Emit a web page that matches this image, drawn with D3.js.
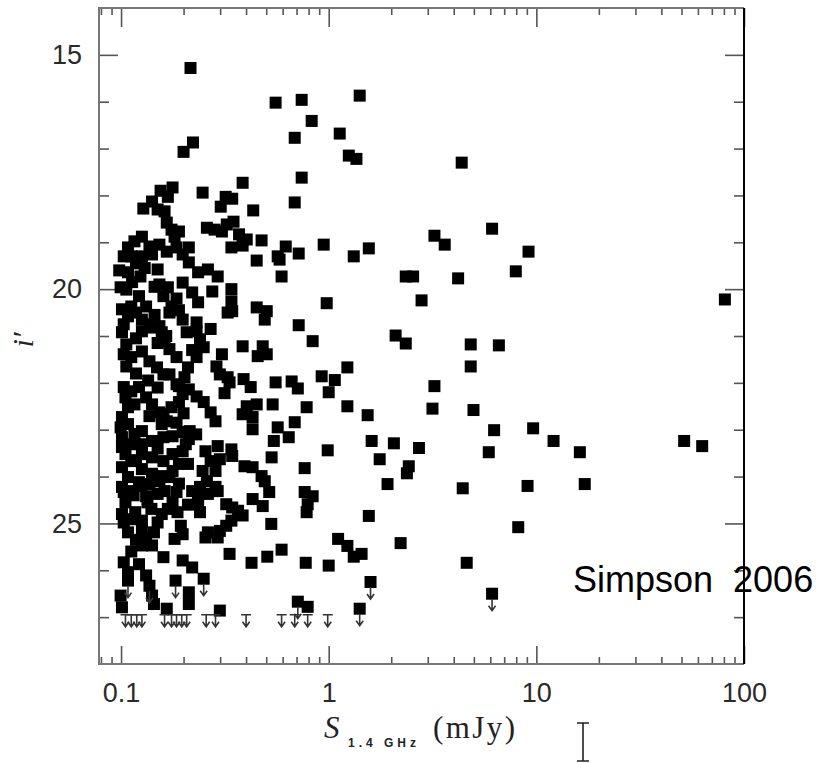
<!DOCTYPE html>
<html>
<head>
<meta charset="utf-8">
<script src="https://cdn.jsdelivr.net/npm/d3@7"></script>
<style>
  body { margin: 0; background: #fff; }
</style>
</head>
<body>
<div id="chart"></div>
<script>

// Detected sources: [S_1.4GHz (mJy), i' (mag)]
var squares = [
    [0.216,15.28],[0.222,16.87],[0.200,17.07],[0.555,16.02],[0.741,15.96],[1.41,15.87],[0.828,16.41],[0.686,16.77],
    [1.13,16.68],[1.25,17.15],[1.36,17.22],[4.37,17.30],[0.741,17.62],[0.686,18.15],[0.385,17.73],[0.247,17.94],
    [0.177,17.83],[0.155,17.90],[0.168,18.03],[0.319,18.03],[0.343,18.07],[0.302,18.24],[0.433,18.32],[0.141,18.13],
    [0.128,18.28],[0.150,18.30],[0.162,18.34],[0.166,18.58],[0.175,18.73],[0.190,18.77],[0.181,18.88],[0.259,18.69],
    [0.282,18.73],[0.306,18.77],[0.323,18.62],[0.348,18.56],[0.370,18.83],[0.403,18.94],[0.385,19.07],[0.340,19.11],
    [0.475,18.96],[3.23,18.86],[3.62,19.05],[6.12,18.71],[9.17,19.20],[0.946,19.05],[0.621,19.09],[0.717,19.24],
    [1.56,19.13],[1.32,19.30],[0.568,19.30],
    [0.116,18.98],[0.108,19.11],[0.103,19.30],[0.112,19.30],[0.126,18.88],[0.137,19.09],[0.126,19.30],[0.141,19.26],
    [0.153,19.05],[0.166,19.20],[0.185,19.11],[0.198,19.26],[0.212,19.11],[0.212,19.43],[0.235,19.64],[0.262,19.58],
    [0.292,19.73],[0.150,19.58],[0.153,19.90],[0.168,19.96],[0.198,19.86],[0.220,20.07],[0.235,20.28],[0.275,20.05],
    [0.340,20.00],[0.340,20.26],[0.343,20.47],[0.326,20.50],[0.450,20.39],[0.503,20.47],[0.492,20.65],[0.450,19.39],
    [0.580,19.37],[0.593,19.73],[0.978,20.30],[0.717,20.77],[0.175,20.37],[0.171,20.50],[0.198,20.65],[0.231,20.71],
    [0.108,19.64],[0.124,19.73],[0.106,20.01],[0.122,20.15],[0.112,20.37],[0.132,20.37],[0.108,20.58],[0.126,20.65],
    [0.153,20.79],[0.137,20.75],[0.103,20.75],[0.0995,19.96],[0.101,20.43],[0.098,19.60],[0.113,19.85],[0.118,20.50],
    [0.118,19.45],[0.130,19.55],[0.145,19.95],[0.160,20.15],[0.185,20.20],[0.190,20.45],[0.145,20.55],[0.270,20.85],
    [0.385,21.22],[0.481,21.22],[0.455,21.43],[0.503,21.39],[0.837,21.11],[0.306,21.39],[0.389,21.92],[0.421,22.09],
    [0.555,21.99],[0.663,21.97],[0.710,22.12],[0.925,21.86],[1.07,21.94],[1.00,22.20],[1.23,21.67],[0.315,22.22],
    [0.403,22.50],[0.450,22.46],[0.385,22.67],[0.430,22.73],[0.430,22.99],[0.537,22.46],[0.783,22.52],[0.686,22.84],
    [0.568,22.95],[0.642,23.16],[0.544,23.24],[0.989,23.44],[0.531,23.59],[0.766,23.82],[1.23,22.50],[0.285,22.82],
    [0.270,22.63],[0.250,22.41],[0.231,22.29],[0.212,22.14],[0.190,22.07],[0.198,22.24],[0.340,23.42],[0.343,23.56],
    [0.292,23.35],[0.299,23.63],[0.270,23.67],[0.255,23.46],[0.247,23.88],[0.285,23.88],[0.393,23.78],[0.430,23.80],
    [0.475,23.99],[0.492,24.10],[0.299,21.82],[0.326,21.88],[0.333,21.99],[0.288,21.65],[0.202,21.88],[0.210,21.67],
    [0.231,21.45],[0.250,21.24],[0.240,21.07],[0.231,20.90],[0.207,20.92],[0.185,21.45],[0.171,21.28],[0.162,21.11],
    [0.157,20.92],[0.141,20.82],[0.126,20.90],[0.101,20.92],[0.106,21.18],[0.103,21.39],[0.112,21.45],[0.126,21.33],
    [0.137,21.54],[0.149,21.67],[0.160,21.82],[0.171,21.82],[0.185,22.03],[0.106,21.65],[0.118,21.80],
    [0.165,21.00],[0.150,21.15],[0.118,21.05],[0.135,21.95],[0.150,22.10],[0.220,21.30],
    [0.103,22.09],[0.105,22.31],[0.112,22.18],[0.122,22.09],[0.108,22.52],[0.116,22.46],[0.132,22.31],[0.141,22.46],
    [0.137,22.71],[0.153,22.63],[0.166,22.82],[0.160,22.67],[0.175,22.52],[0.190,22.41],[0.157,22.88],[0.101,22.73],
    [0.0995,22.95],[0.101,23.16],[0.101,23.37],[0.108,22.88],[0.116,23.09],[0.126,23.03],[0.112,23.31],[0.126,23.31],
    [0.141,23.24],[0.160,23.16],[0.177,23.14],[0.198,23.05],[0.214,23.03],[0.212,23.20],[0.205,23.31],[0.105,23.52],
    [0.112,23.67],[0.126,23.52],[0.141,23.59],[0.160,23.67],[0.177,23.52],[0.198,23.46],[0.210,23.73],[0.190,23.73],
    [0.177,23.88],[0.160,23.99],[0.141,23.94],[0.126,23.84],[0.108,24.01],[0.122,24.12],[0.137,24.16],[0.153,24.10],
    [0.171,24.01],[0.101,24.22],[0.101,23.80],[0.240,24.22],[0.259,24.10],[0.285,24.22],
    [0.200,22.65],[0.185,22.85],[0.150,23.40],[0.118,23.65],[0.230,23.10],
    [0.103,24.33],[0.112,24.31],[0.132,24.42],[0.150,24.37],[0.162,24.31],[0.185,24.33],[0.220,24.31],[0.235,24.44],
    [0.262,24.37],[0.292,24.31],[0.517,24.33],[0.430,24.48],[0.481,24.63],[0.766,24.33],[0.837,24.42],[0.792,24.59],
    [0.783,24.76],[0.105,24.55],[0.101,24.80],[0.103,24.98],[0.108,25.19],[0.112,24.91],[0.117,24.76],[0.126,24.94],
    [0.126,25.12],[0.132,25.30],[0.126,25.47],[0.141,25.47],[0.144,25.19],[0.150,24.98],[0.157,24.80],[0.140,24.69],
    [0.134,24.55],[0.177,24.55],[0.187,24.76],[0.168,24.69],[0.194,25.05],[0.198,25.23],[0.181,25.33],[0.240,24.76],
    [0.235,24.55],[0.321,24.59],[0.343,24.66],[0.366,24.73],[0.385,24.83],[0.340,24.94],[0.321,25.05],[0.299,25.16],
    [0.262,25.19],[0.255,25.30],[0.292,25.30],[0.160,25.72],[0.333,25.65],[0.425,25.84],[0.506,25.71],[0.593,25.56],
    [0.775,25.84],[1.00,25.90],[1.11,25.33],[1.23,25.48],[0.529,25.01],
    [0.190,24.15],[0.210,24.60],[0.118,25.35],[0.112,25.60],[0.115,24.40],[0.125,24.20],
    [0.103,25.83],[0.108,26.04],[0.0995,26.54],[0.101,26.79],[0.122,25.87],[0.132,26.11],[0.141,26.54],[0.144,26.72],
    [0.198,25.79],[0.220,25.94],[0.212,26.47],[0.212,26.72],[0.166,26.82],[0.299,26.86],[0.792,26.78],
    [2.35,19.73],[2.55,19.73],[4.20,19.77],[7.96,19.62],[2.80,20.24],[2.10,20.99],[2.35,21.16],[4.83,21.18],
    [6.60,21.20],[4.83,21.65],[3.23,22.07],[1.54,22.69],[3.16,22.55],[4.98,22.58],[6.26,23.01],[9.65,22.97],
    [1.61,23.24],[2.06,23.29],[2.72,23.39],[5.90,23.48],[1.76,23.63],[2.43,23.78],[2.38,23.93],[1.92,24.16],
    [4.42,24.25],[9.07,24.20],[1.56,24.84],[8.18,25.08],[1.32,25.71],[1.44,25.65],[2.22,25.42],[4.62,25.84],
    [80.9,20.22],[12.1,23.24],[16.2,23.48],[51.5,23.24],[62.9,23.35],[17.1,24.16]
];

// Detections that also carry a downward arrow
var limitSquares = [
    [0.108,26.22],[0.137,26.33],[0.183,26.22],[0.250,26.18],[0.710,26.67],[1.59,26.25],[1.41,26.82],[6.12,26.50]
];

// Non-detections in i' (upper limits at the survey depth)
var limitFlux = [0.105,0.112,0.119,0.126,0.162,0.175,0.185,0.196,0.207,0.257,0.285,0.400,0.593,0.686,0.792,0.989];
var limitMag = 26.95;

// Axis ticks
var xMajor = [0.1, 1, 10, 100];
var xMinor = [0.08, 0.09, 0.2, 0.3, 0.4, 0.5, 0.6, 0.7, 0.8, 0.9, 2, 3, 4, 5, 6, 7, 8, 9, 20, 30, 40, 50, 60, 70, 80, 90];
var yMajor = [15, 20, 25];
var yMinor = [16, 17, 18, 19, 21, 22, 23, 24, 26, 27];


// --> CREATE SVG DRAWING AREA
var width = 823,
    height = 763;

var plotLeft = 99, plotRight = 744, plotTop = 8, plotBottom = 664;

var svg = d3.select("#chart").append("svg")
    .attr("width", width)
    .attr("height", height);

svg.append("rect")
    .attr("width", width)
    .attr("height", height)
    .attr("fill", "#fff");

var x = d3.scaleLog()
    .domain([0.0783, 100])
    .range([plotLeft, plotRight]);

var y = d3.scaleLinear()
    .domain([14, 28])
    .range([plotTop, plotBottom]);

var labelFont = "'Liberation Sans', Arial, Helvetica, sans-serif";


// Axes: ticks on all four sides, pointing inward
function addAxis(axis, tx, ty, labels) {
    var g = svg.append("g")
        .attr("transform", "translate(" + tx + "," + ty + ")")
        .call(axis);
    g.select(".domain").remove();
    g.attr("color", "#555");
    g.selectAll("line").attr("stroke-width", 1.6);
    g.selectAll("text")
        .attr("font-family", labelFont)
        .attr("font-size", 27)
        .attr("fill", "#2a2a2a");
    if (!labels) g.selectAll("text").remove();
    return g;
}

var fmt = function(d) { return String(d); };

addAxis(d3.axisBottom(x).tickValues(xMajor).tickSize(-18).tickPadding(19).tickFormat(fmt), 0, plotBottom, true);
addAxis(d3.axisBottom(x).tickValues(xMinor).tickSize(-7), 0, plotBottom, false);
addAxis(d3.axisTop(x).tickValues(xMajor).tickSize(-19), 0, plotTop, false);
addAxis(d3.axisTop(x).tickValues(xMinor).tickSize(-7), 0, plotTop, false);
addAxis(d3.axisLeft(y).tickValues(yMajor).tickSize(-19).tickPadding(17).tickFormat(fmt), plotLeft, 0, true);
addAxis(d3.axisLeft(y).tickValues(yMinor).tickSize(-10), plotLeft, 0, false);
addAxis(d3.axisRight(y).tickValues(yMajor).tickSize(-19), plotRight, 0, false);
addAxis(d3.axisRight(y).tickValues(yMinor).tickSize(-10), plotRight, 0, false);


// Frame
svg.append("path")
    .attr("d", "M" + plotRight + "," + plotTop + "H" + plotLeft + "V" + plotBottom + "H" + plotRight)
    .attr("fill", "none")
    .attr("stroke", "#777")
    .attr("stroke-width", 2);
svg.append("path")
    .attr("d", "M" + plotRight + "," + plotTop + "V" + plotBottom)
    .attr("fill", "none")
    .attr("stroke", "#000")
    .attr("stroke-width", 2);


// Points
var size = 12;

svg.selectAll(".det")
    .data(squares.concat(limitSquares))
    .enter().append("rect")
    .attr("class", "det")
    .attr("x", function(d) { return x(d[0]) - size / 2; })
    .attr("y", function(d) { return y(d[1]) - size / 2; })
    .attr("width", size)
    .attr("height", size)
    .attr("fill", "#000");

function arrowPath(cx, y0, len, bar) {
    var p = "M" + cx + "," + y0 + "V" + (y0 + len) +
        "M" + (cx - 3.5) + "," + (y0 + len - 5) + "L" + cx + "," + (y0 + len) + "L" + (cx + 3.5) + "," + (y0 + len - 5);
    if (bar) p += "M" + (cx - 5) + "," + y0 + "H" + (cx + 5);
    return p;
}

svg.selectAll(".lim-sq")
    .data(limitSquares)
    .enter().append("path")
    .attr("class", "lim-sq")
    .attr("d", function(d) { return arrowPath(x(d[0]), y(d[1]) + 5, 12, false); })
    .attr("fill", "none")
    .attr("stroke", "#333")
    .attr("stroke-width", 1.6);

svg.selectAll(".lim")
    .data(limitFlux)
    .enter().append("path")
    .attr("class", "lim")
    .attr("d", function(d) { return arrowPath(x(d), y(limitMag), 12, true); })
    .attr("fill", "none")
    .attr("stroke", "#333")
    .attr("stroke-width", 1.6);


// Axis titles
var xt = svg.append("text")
    .attr("y", 738)
    .attr("fill", "#222");
xt.append("tspan")
    .attr("x", 324)
    .attr("font-family", "'Liberation Serif', 'Times New Roman', serif")
    .attr("font-style", "italic")
    .attr("font-size", 31)
    .text("S");
xt.append("tspan")
    .attr("x", 348)
    .attr("y", 747)
    .attr("font-family", labelFont)
    .attr("font-weight", "bold")
    .attr("font-size", 12)
    .attr("textLength", 68)
    .text("1.4 GHz");
xt.append("tspan")
    .attr("x", 433)
    .attr("y", 738)
    .attr("font-family", "'Liberation Serif', 'Times New Roman', serif")
    .attr("font-size", 31)
    .attr("textLength", 82)
    .text("(mJy)");

svg.append("text")
    .attr("transform", "translate(33,340) rotate(-90)")
    .attr("text-anchor", "middle")
    .attr("font-family", "'Liberation Serif', 'Times New Roman', serif")
    .attr("font-style", "italic")
    .attr("font-size", 30)
    .attr("fill", "#222")
    .text("i\u2032");


// Credit
svg.append("text")
    .attr("x", 573)
    .attr("y", 592)
    .attr("font-family", labelFont)
    .attr("font-size", 36)
    .attr("fill", "#000")
    .style("white-space", "pre")
    .text("Simpson  2006");

// Text cursor left in the screenshot
svg.append("path")
    .attr("d", "M577,723H589M583,723V761M577,761H589")
    .attr("fill", "none")
    .attr("stroke", "#222")
    .attr("stroke-width", 1.6);

</script>
</body>
</html>
